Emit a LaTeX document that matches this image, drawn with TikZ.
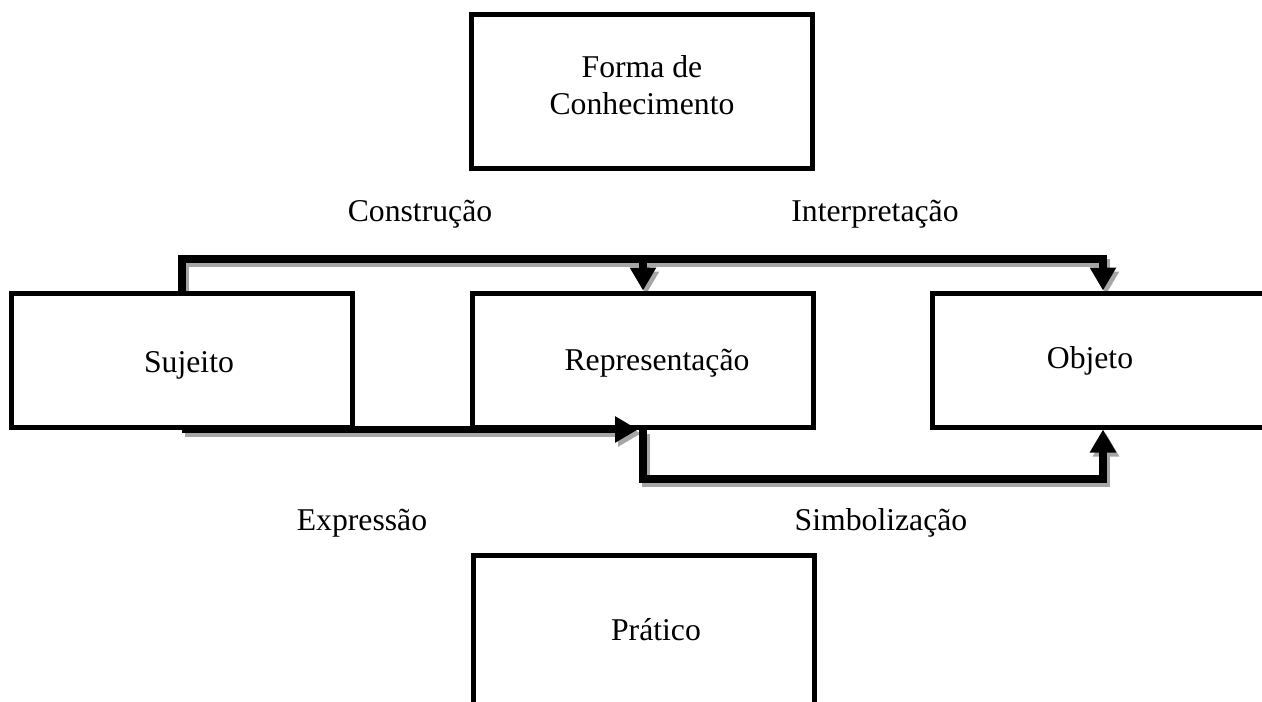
\documentclass[tikz,border=0pt]{standalone}
\usepackage{fontspec}
\setmainfont{Liberation Serif}
\usetikzlibrary{arrows.meta,calc}
\tikzset{
  box/.style={draw=black, line width=5pt, rectangle, inner sep=0pt},
  lbl/.style={anchor=base, inner sep=0pt, font=\fontsize{31.7}{37}\selectfont},
  conn/.style={line width=7.5pt, line join=miter, -{Triangle[width=25pt,length=23pt]}},
  shade/.style={color=black!35},
}
\begin{document}
\begin{tikzpicture}[x=1pt,y=-1pt]
\useasboundingbox (0,0) rectangle (1262,702);
% boxes
\node[box, minimum width=341pt, minimum height=154pt] (forma) at (642,91.5) {};
\node[box, minimum width=341pt, minimum height=134pt] (suj) at (182,360) {};
\node[box, minimum width=341pt, minimum height=134pt] (rep) at (643,360) {};
\node[box, minimum width=341pt, minimum height=134pt] (obj) at (1103,360) {};
\node[box, minimum width=341pt, minimum height=180pt] (prat) at (644,645) {};
\coordinate (top) at (0,259);
\coordinate (bot) at (0,479);
% shadows
\begin{scope}[transform canvas={xshift=3pt,yshift=-4pt}]
  \draw[conn, shade] (suj.north) -- (suj.north |- top) -- (obj.north |- top) -- (obj.north);
  \draw[conn, shade] (rep.north |- top) -- (rep.north);
  \draw[conn, shade, shorten >=5pt] (suj.south) -- (rep.south);
  \draw[conn, shade] (rep.south) -- (rep.south |- bot) -- (obj.south |- bot) -- (obj.south);
\end{scope}
% redraw box borders over shadows
\foreach \n in {suj,rep,obj}{
  \draw[line width=5pt] ($(\n.north west)+(2.5,2.5)$) rectangle ($(\n.south east)+(-2.5,-2.5)$);
}
% connectors
\draw[conn] (suj.north) -- (suj.north |- top) -- (obj.north |- top) -- (obj.north);
\draw[conn] (rep.north |- top) -- (rep.north);
\draw[conn, shorten >=5pt] (suj.south) -- (rep.south);
\draw[conn] (rep.south) -- (rep.south |- bot) -- (obj.south |- bot) -- (obj.south);
% texts
\node[lbl, align=center, anchor=north] (tforma) at (642,55) {Forma de\\Conhecimento};
\node[lbl] (tsuj) at (189,372) {Sujeito};
\node[lbl] (trep) at (657,370) {Representação};
\node[lbl] (tobj) at (1090,368) {Objeto};
\node[lbl] (tprat) at (656,640) {Prático};
\node[lbl] (tcons) at (420,221) {Construção};
\node[lbl] (tint) at (875,221) {Interpretação};
\node[lbl] (texp) at (362,530) {Expressão};
\node[lbl] (tsim) at (881,530) {Simbolização};
\end{tikzpicture}
\end{document}
